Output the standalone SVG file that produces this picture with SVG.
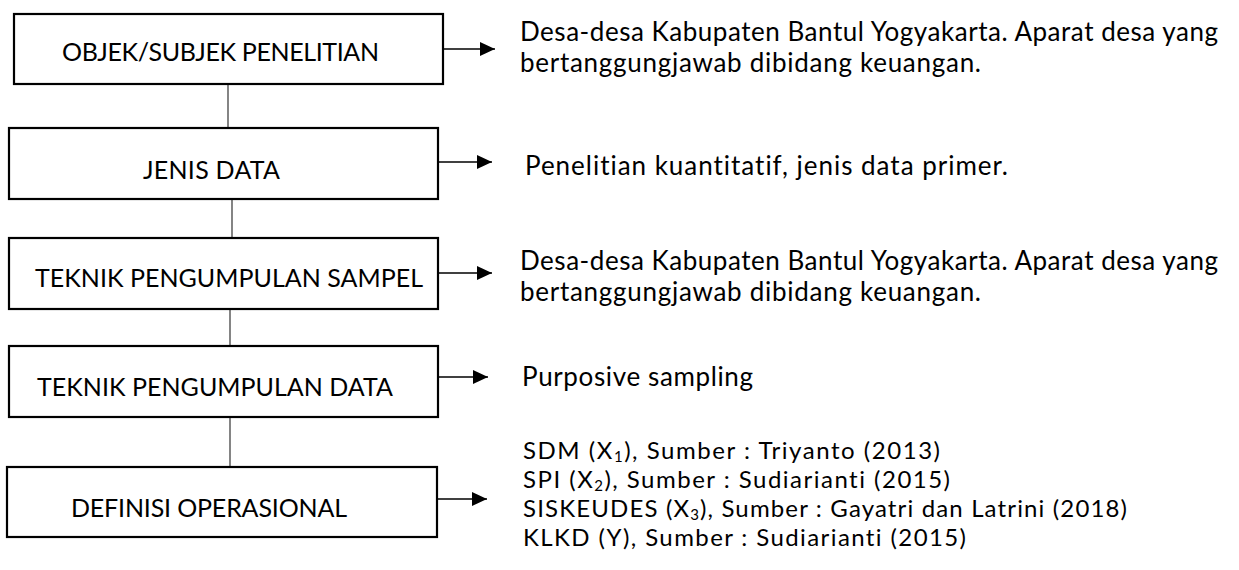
<svg xmlns="http://www.w3.org/2000/svg" width="1239" height="570" viewBox="0 0 1239 570">
<style>
  .box { fill: #ffffff; stroke: #000000; stroke-width: 2.2; }
  .lbl { font-family: Lato, "Liberation Sans", sans-serif; font-size: 25px; fill: #000000; font-variant-ligatures: none; }
  .txt { font-family: Lato, "Liberation Sans", sans-serif; font-size: 26px; fill: #000000; font-variant-ligatures: none; }
  .def { font-family: Lato, "Liberation Sans", sans-serif; font-size: 24px; fill: #000000; font-variant-ligatures: none; }
  .sub { font-size: 15px; }
  .vline { stroke: #333333; stroke-width: 1.2; fill: none; }
  .arrow { stroke: #000000; stroke-width: 1.3; fill: none; marker-end: url(#ah); }
</style>
<defs>
  <marker id="ah" markerUnits="userSpaceOnUse" markerWidth="16" markerHeight="14" refX="15" refY="7" orient="auto">
    <path d="M0,0 L15,7 L0,14 Z" fill="#000000"/>
  </marker>
</defs>
<rect width="1239" height="570" fill="#ffffff"/>

<g id="connectors">
  <line class="vline" x1="228" y1="84" x2="228" y2="128"/>
  <line class="vline" x1="232" y1="199" x2="232" y2="238"/>
  <line class="vline" x1="230" y1="309" x2="230" y2="346"/>
  <line class="vline" x1="230" y1="417" x2="230" y2="467"/>
  <line class="arrow" x1="443" y1="49" x2="495" y2="49"/>
  <line class="arrow" x1="438" y1="162" x2="492" y2="162"/>
  <line class="arrow" x1="438" y1="273" x2="492" y2="273"/>
  <line class="arrow" x1="438" y1="377" x2="488" y2="377"/>
  <line class="arrow" x1="437" y1="499" x2="487" y2="499"/>
</g>

<g id="node-objek">
  <rect class="box" x="14" y="14" width="429" height="70"/>
  <text class="lbl" x="62" y="61" textLength="317">OBJEK/SUBJEK PENELITIAN</text>
</g>
<g id="node-jenis">
  <rect class="box" x="9" y="128" width="429" height="71"/>
  <text class="lbl" x="143" y="179" textLength="137">JENIS DATA</text>
</g>
<g id="node-sampel">
  <rect class="box" x="9" y="238" width="429" height="71"/>
  <text class="lbl" x="35" y="287" textLength="388">TEKNIK PENGUMPULAN SAMPEL</text>
</g>
<g id="node-data">
  <rect class="box" x="9" y="346" width="429" height="71"/>
  <text class="lbl" x="37" y="396" textLength="356">TEKNIK PENGUMPULAN DATA</text>
</g>
<g id="node-definisi">
  <rect class="box" x="7" y="467" width="430" height="70"/>
  <text class="lbl" x="71" y="517" textLength="276">DEFINISI OPERASIONAL</text>
</g>

<g id="desc-objek">
  <text class="txt" x="520" y="41" textLength="698">Desa-desa Kabupaten Bantul Yogyakarta. Aparat desa yang</text>
  <text class="txt" x="520" y="72" textLength="461">bertanggungjawab dibidang keuangan.</text>
</g>
<g id="desc-jenis">
  <text class="txt" x="525" y="175" textLength="483">Penelitian kuantitatif, jenis data primer.</text>
</g>
<g id="desc-sampel">
  <text class="txt" x="520" y="270" textLength="698">Desa-desa Kabupaten Bantul Yogyakarta. Aparat desa yang</text>
  <text class="txt" x="520" y="301" textLength="461">bertanggungjawab dibidang keuangan.</text>
</g>
<g id="desc-data">
  <text class="txt" x="522" y="386" textLength="231">Purposive sampling</text>
</g>
<g id="desc-definisi">
  <text class="def" x="523" y="459" textLength="417">SDM (X<tspan class="sub" dy="3">1</tspan><tspan dy="-3">), Sumber : Triyanto (2013)</tspan></text>
  <text class="def" x="523" y="488" textLength="427">SPI (X<tspan class="sub" dy="3">2</tspan><tspan dy="-3">), Sumber : Sudiarianti (2015)</tspan></text>
  <text class="def" x="523" y="517" textLength="604">SISKEUDES (X<tspan class="sub" dy="3">3</tspan><tspan dy="-3">), Sumber : Gayatri dan Latrini (2018)</tspan></text>
  <text class="def" x="523" y="546" textLength="443">KLKD (Y), Sumber : Sudiarianti (2015)</text>
</g>
</svg>
